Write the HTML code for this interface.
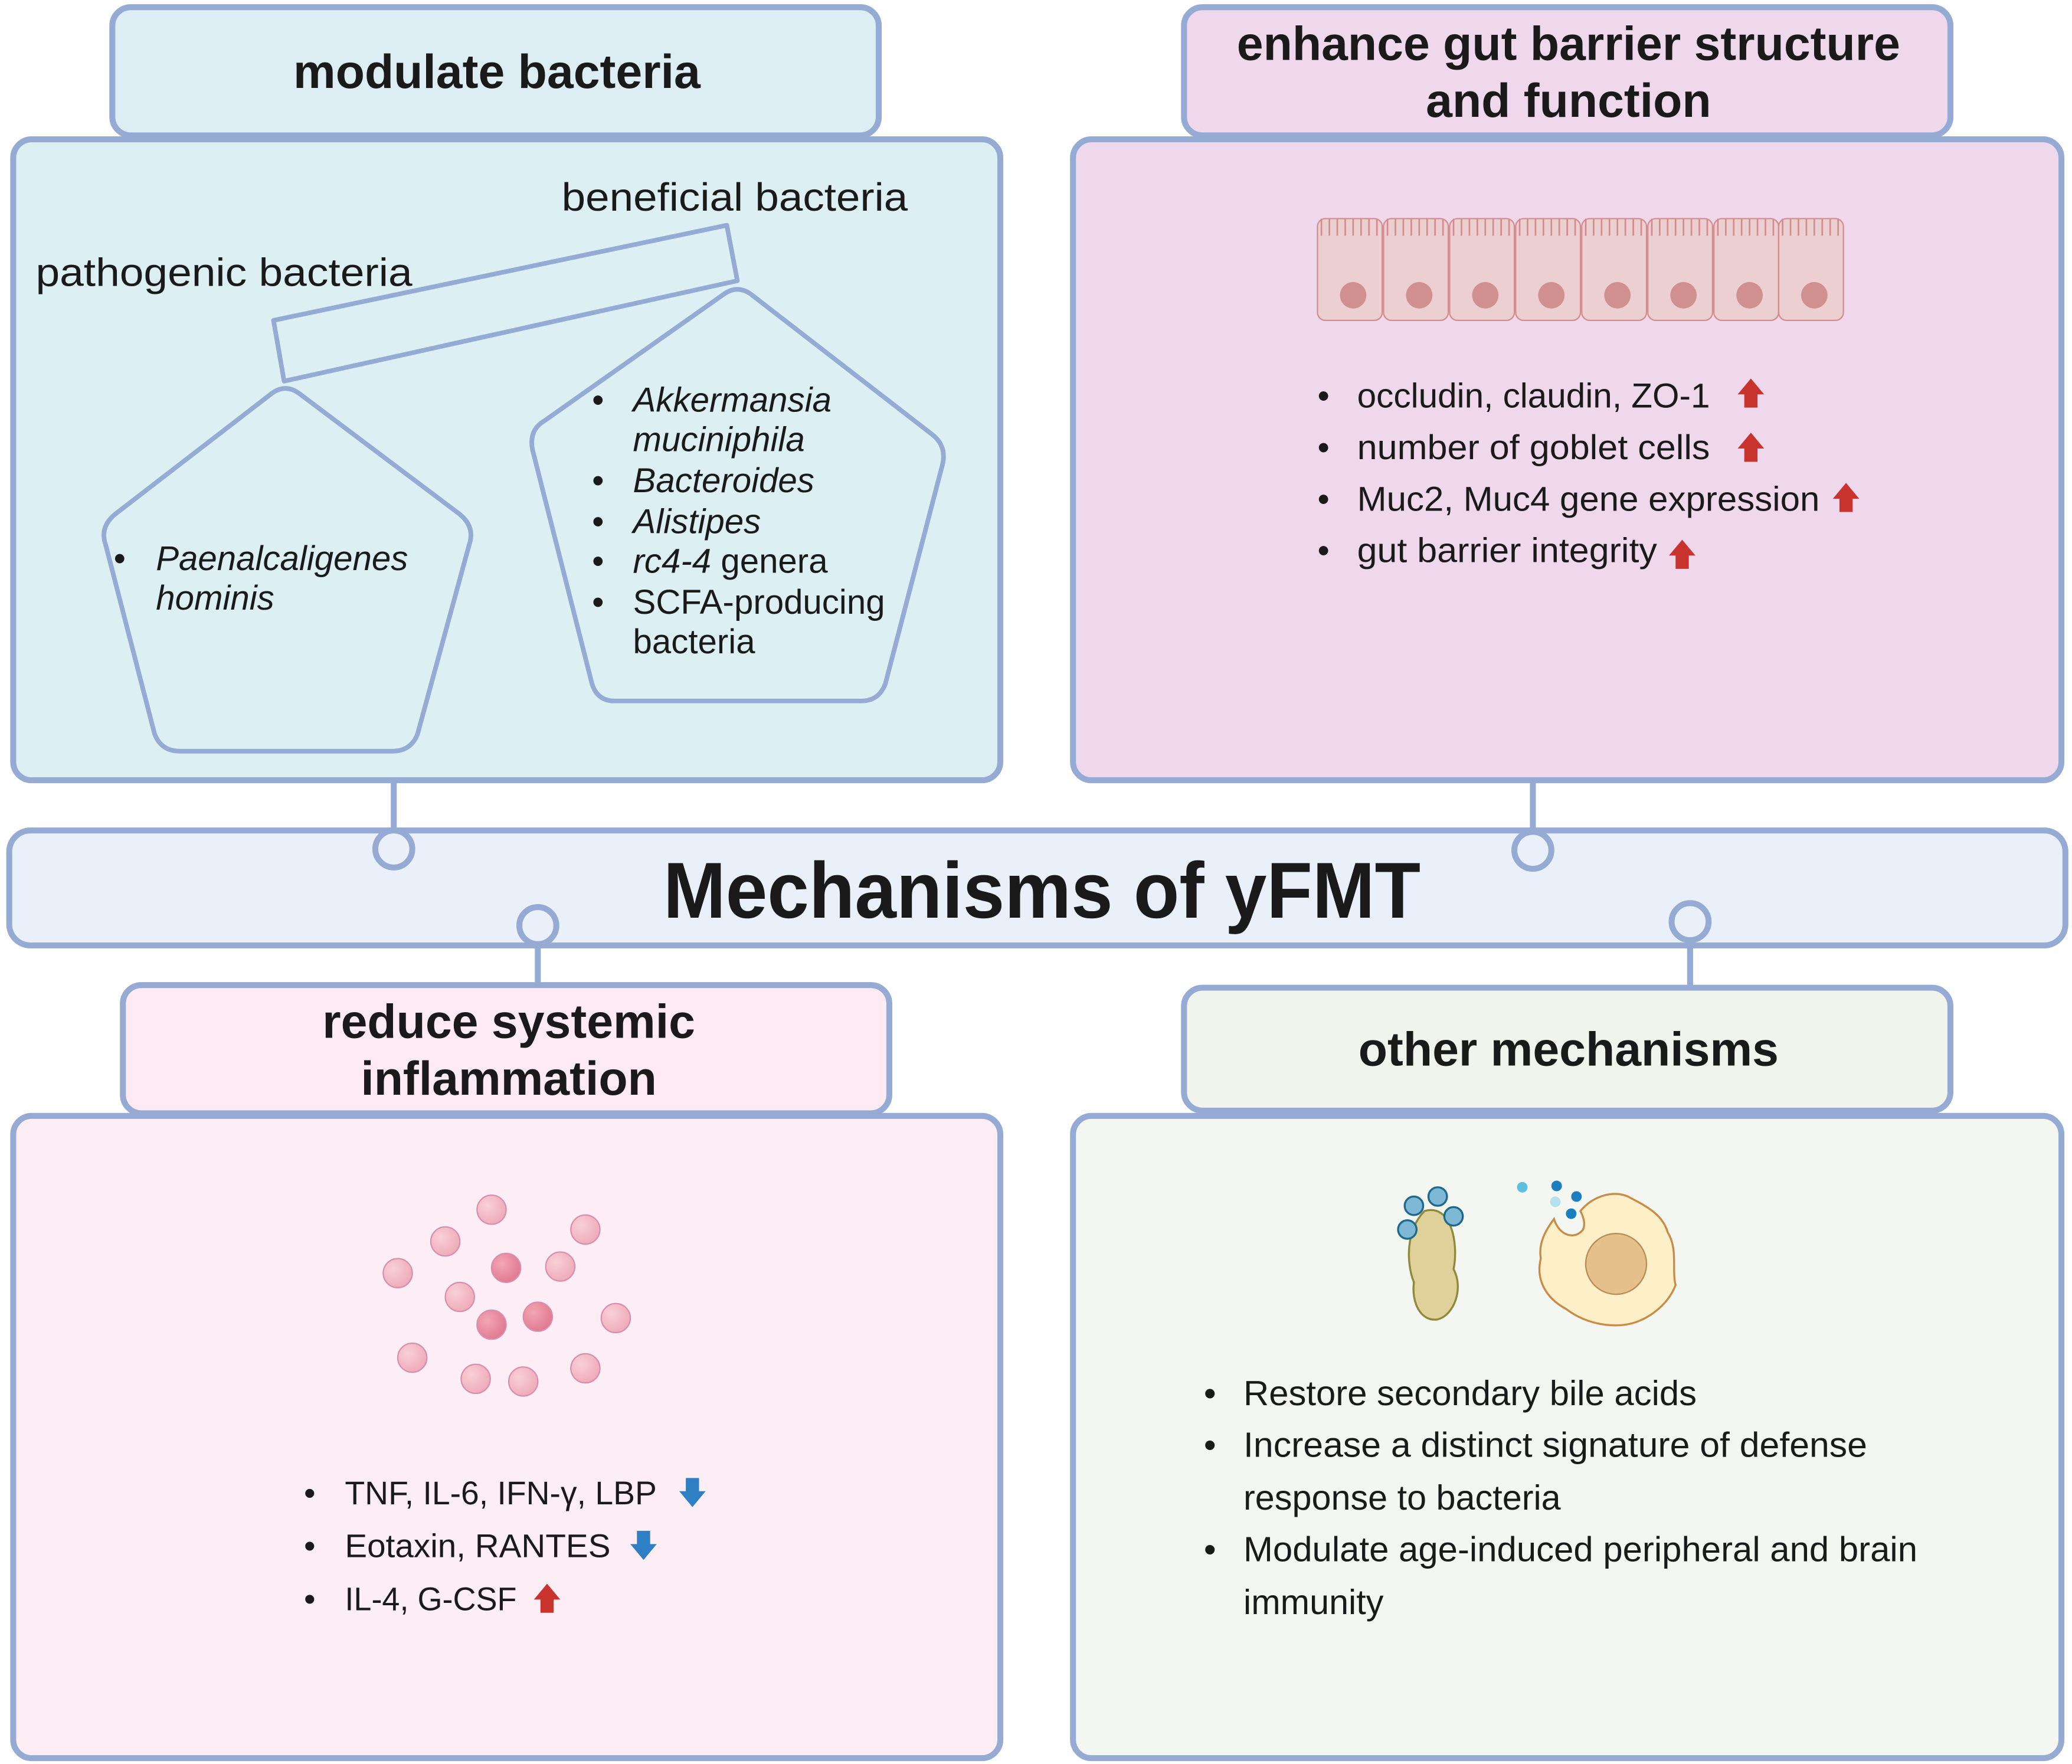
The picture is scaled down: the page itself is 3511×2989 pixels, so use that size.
<!DOCTYPE html>
<html><head><meta charset="utf-8"><style>
html,body{margin:0;padding:0;background:#fff}
svg{display:block}
text{font-family:"Liberation Sans",sans-serif;fill:#1a1a1a}
</style></head><body>
<svg width="3511" height="2989" viewBox="0 0 1568 1334" xmlns="http://www.w3.org/2000/svg">
<defs>
<path id="up" d="M-5,10 L-5,0 L-10,0 L0,-12 L10,0 L5,0 L5,10 Z" fill="#c8332e"/>
<path id="dn" d="M-5,-10 L-5,0 L-10,0 L0,12 L10,0 L5,0 L5,-10 Z" fill="#2f7fc4"/>
<g id="cell">
<rect x="0" y="2" width="49" height="77" rx="6" fill="#eccfd0" stroke="#d38c8e" stroke-width="1"/>
<path d="M3,15 v-13 M9,15 v-13 M15,15 v-13 M21,15 v-13 M27,15 v-13 M33,15 v-13 M39,15 v-13 M45,15 v-13" stroke="#d38c8e" stroke-width="1.2"/>
<ellipse cx="27" cy="60" rx="10" ry="10" fill="#d09090"/>
</g>
<radialGradient id="pk" cx="0.35" cy="0.35" r="0.7"><stop offset="0" stop-color="#f9d0d8"/><stop offset="1" stop-color="#eeaab8"/></radialGradient>
<radialGradient id="pk2" cx="0.35" cy="0.35" r="0.7"><stop offset="0" stop-color="#f3a6b4"/><stop offset="1" stop-color="#e07990"/></radialGradient>
</defs>
<g stroke="#95abd4" stroke-width="4.5">
<line x1="298" y1="590" x2="298" y2="628"/>
<line x1="1160" y1="590" x2="1160" y2="628"/>
<line x1="407" y1="714" x2="407" y2="746"/>
<line x1="1279" y1="714" x2="1279" y2="748"/>
<rect x="85" y="5" width="580" height="97" rx="14" fill="#dcedf3"/>
<rect x="10" y="105" width="747" height="485" rx="14" fill="#dcf0f4"/>
<rect x="896" y="5" width="580" height="97" rx="14" fill="#efd8ec"/>
<rect x="812" y="105" width="748" height="485" rx="14" fill="#efd8ec"/>
<rect x="7" y="628" width="1556" height="87" rx="16" fill="#eaf0f9"/>
<rect x="93" y="745" width="580" height="97" rx="14" fill="#fdeaf3"/>
<rect x="10" y="844" width="747" height="486" rx="14" fill="#fdeef5"/>
<rect x="896" y="747" width="580" height="93" rx="14" fill="#f0f4ec"/>
<rect x="812" y="844" width="748" height="486" rx="14" fill="#f4f7f1"/>
<circle cx="298" cy="642" r="14" fill="#eaf0f9"/>
<circle cx="1160" cy="643" r="14" fill="#eaf0f9"/>
<circle cx="407" cy="700" r="14" fill="#eaf0f9"/>
<circle cx="1279" cy="697" r="14" fill="#eaf0f9"/>
</g>
<g stroke="#95abd4" stroke-width="3.5" fill="none" stroke-linejoin="round">
<path d="M226,297 L347,388 Q360,398 355,412 L316,555 Q311,568 297,568 L136,568 Q122,568 117,555 L80,412 Q75,398 88,388 L206,297 Q216,290 226,297 Z"/>
<path d="M568,222 L705,328 Q717,337 713,352 L670,517 Q665,530 652,530 L465,530 Q452,530 448,517 L403,340 Q400,325 412,318 L548,222 Q558,215 568,222 Z"/>
<path d="M207,242 L550,170 L558,212 L215,288 Z"/>
</g>
<text x="376" y="66" font-size="36" font-weight="bold" text-anchor="middle">modulate bacteria</text>
<text x="1187" y="45" font-size="36" font-weight="bold" text-anchor="middle">enhance gut barrier structure</text>
<text x="1187" y="88" font-size="36" font-weight="bold" text-anchor="middle">and function</text>
<text x="502" y="694" font-size="60" font-weight="bold" textLength="573" lengthAdjust="spacingAndGlyphs">Mechanisms of yFMT</text>
<text x="385" y="785" font-size="36" font-weight="bold" text-anchor="middle">reduce systemic</text>
<text x="385" y="828" font-size="36" font-weight="bold" text-anchor="middle">inflammation</text>
<text x="1187" y="806" font-size="36" font-weight="bold" text-anchor="middle">other mechanisms</text>
<g font-size="30">
<text x="425" y="159" textLength="262" lengthAdjust="spacingAndGlyphs">beneficial bacteria</text>
<text x="27" y="216" textLength="285" lengthAdjust="spacingAndGlyphs">pathogenic bacteria</text>
</g>
<g font-size="26">
<text x="86" y="431">•</text><text x="118" y="431" font-style="italic">Paenalcaligenes</text>
<text x="118" y="461" font-style="italic">hominis</text>
<text x="448" y="311">•</text><text x="479" y="311" font-style="italic">Akkermansia</text>
<text x="479" y="341" font-style="italic">muciniphila</text>
<text x="448" y="372">•</text><text x="479" y="372" font-style="italic">Bacteroides</text>
<text x="448" y="403">•</text><text x="479" y="403" font-style="italic">Alistipes</text>
<text x="448" y="433">•</text><text x="479" y="433"><tspan font-style="italic">rc4-4</tspan> genera</text>
<text x="448" y="464">•</text><text x="479" y="464">SCFA-producing</text>
<text x="479" y="494">bacteria</text>
<text x="997" y="308">•</text><text x="1027" y="308" textLength="267" lengthAdjust="spacingAndGlyphs">occludin, claudin, ZO-1</text>
<text x="997" y="347">•</text><text x="1027" y="347" textLength="267" lengthAdjust="spacingAndGlyphs">number of goblet cells</text>
<text x="997" y="386">•</text><text x="1027" y="386" textLength="350" lengthAdjust="spacingAndGlyphs">Muc2, Muc4 gene expression</text>
<text x="997" y="425">•</text><text x="1027" y="425" textLength="227" lengthAdjust="spacingAndGlyphs">gut barrier integrity</text>
</g>
<g font-size="25">
<text x="230" y="1138">•</text><text x="261" y="1138" textLength="236" lengthAdjust="spacingAndGlyphs">TNF, IL-6, IFN-γ, LBP</text>
<text x="230" y="1178">•</text><text x="261" y="1178" textLength="201" lengthAdjust="spacingAndGlyphs">Eotaxin, RANTES</text>
<text x="230" y="1218">•</text><text x="261" y="1218" textLength="130" lengthAdjust="spacingAndGlyphs">IL-4, G-CSF</text>
</g>
<g font-size="26.5">
<text x="911" y="1063">•</text><text x="941" y="1063" textLength="343" lengthAdjust="spacingAndGlyphs">Restore secondary bile acids</text>
<text x="911" y="1102">•</text><text x="941" y="1102" textLength="472" lengthAdjust="spacingAndGlyphs">Increase a distinct signature of defense</text>
<text x="941" y="1142">response to bacteria</text>
<text x="911" y="1181">•</text><text x="941" y="1181" textLength="510" lengthAdjust="spacingAndGlyphs">Modulate age-induced peripheral and brain</text>
<text x="941" y="1221">immunity</text>
</g>
<use href="#up" x="1325" y="298"/>
<use href="#up" x="1325" y="339"/>
<use href="#up" x="1397" y="377"/>
<use href="#up" x="1273" y="420"/>
<use href="#dn" x="524" y="1128"/>
<use href="#dn" x="487" y="1168"/>
<use href="#up" x="414" y="1210"/>
<g transform="translate(997,163)">
<use href="#cell" x="0"/><use href="#cell" x="50"/><use href="#cell" x="100"/><use href="#cell" x="150"/>
<use href="#cell" x="200"/><use href="#cell" x="250"/><use href="#cell" x="300"/><use href="#cell" x="349"/>
</g>
<g stroke="#d88fae" stroke-width="1">
<circle cx="372" cy="915" r="11" fill="url(#pk)"/>
<circle cx="443" cy="930" r="11" fill="url(#pk)"/>
<circle cx="337" cy="939" r="11" fill="url(#pk)"/>
<circle cx="383" cy="959" r="11" fill="url(#pk2)"/>
<circle cx="424" cy="958" r="11" fill="url(#pk)"/>
<circle cx="301" cy="963" r="11" fill="url(#pk)"/>
<circle cx="348" cy="981" r="11" fill="url(#pk)"/>
<circle cx="372" cy="1002" r="11" fill="url(#pk2)"/>
<circle cx="407" cy="996" r="11" fill="url(#pk2)"/>
<circle cx="466" cy="997" r="11" fill="url(#pk)"/>
<circle cx="312" cy="1027" r="11" fill="url(#pk)"/>
<circle cx="360" cy="1043" r="11" fill="url(#pk)"/>
<circle cx="396" cy="1045" r="11" fill="url(#pk)"/>
<circle cx="443" cy="1035" r="11" fill="url(#pk)"/>
</g>
<path d="M1078,916 C1098,910 1104,940 1100,960 C1108,975 1100,995 1088,998 C1075,1000 1068,985 1070,970 C1064,955 1064,930 1078,916 Z" fill="#e0d09a" stroke="#8f8a3a" stroke-width="1.5"/>
<g fill="#7fb8d4" stroke="#1d6a8e" stroke-width="1.5">
<circle cx="1070" cy="912" r="7"/><circle cx="1088" cy="905" r="7"/><circle cx="1100" cy="920" r="7"/><circle cx="1065" cy="930" r="7"/>
</g>
<path d="M1196,916 C1205,905 1220,900 1232,905 C1245,912 1258,918 1262,932 C1270,945 1265,960 1268,972 C1262,988 1245,1000 1230,1002 C1215,1004 1198,1000 1185,990 C1170,982 1162,968 1166,952 C1164,940 1170,930 1176,922 C1180,935 1192,938 1198,930 C1200,925 1198,920 1196,916 Z" fill="#fdefc7" stroke="#c98b45" stroke-width="1.5"/>
<circle cx="1223" cy="956" r="23" fill="#e6c08a" stroke="#b98a55" stroke-width="1"/>
<circle cx="1152" cy="898" r="4" fill="#5cc0e0"/>
<circle cx="1178" cy="897" r="4" fill="#1b7fbf"/>
<circle cx="1193" cy="905" r="4" fill="#1b7fbf"/>
<circle cx="1177" cy="909" r="4" fill="#b5e0ee"/>
<circle cx="1189" cy="918" r="4" fill="#1b7fbf"/>
</svg>
</body></html>
